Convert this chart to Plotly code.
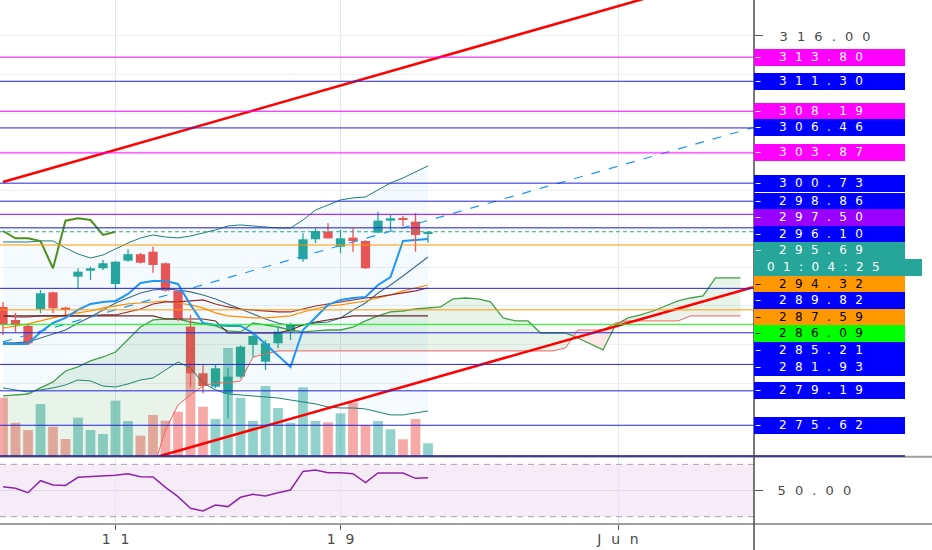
import numpy as np
import plotly.graph_objects as go

# SPY intraday bars, May 2020 (about 3 bars per trading day).
# bar 0 is the first bar visible on the left of the chart
OPEN = [287.89, 286.54, 285.95, 287.68, 289.41, 287.82, 291.03, 291.65, 291.90, 290.27,
        292.69, 293.36, 293.62, 292.42, 289.58, 285.85, 281.01, 279.62, 278.93, 280.66,
        283.95, 282.21, 284.12, 285.33, 292.84, 294.91, 295.70, 294.14, 295.08, 294.73,
        295.60, 296.84, 297.09, 296.74, 295.46]
HIGH = [288.41, 287.27, 286.10, 289.65, 289.48, 287.92, 291.90, 292.07, 292.76, 292.62,
        293.87, 293.50, 294.14, 292.50, 289.62, 287.06, 281.87, 281.87, 281.53, 283.90,
        285.16, 284.46, 285.85, 286.26, 295.53, 296.05, 296.57, 295.88, 296.05, 294.80,
        297.77, 297.43, 297.33, 297.61, 295.72]
LOW = [284.98, 285.30, 283.95, 287.24, 287.24, 287.06, 289.72, 290.69, 291.73, 289.72,
       292.59, 292.40, 291.45, 289.50, 286.40, 279.62, 278.93, 279.45, 276.34, 280.50,
       282.73, 281.35, 283.60, 284.46, 292.59, 294.50, 295.00, 293.46, 293.62, 291.85,
       295.53, 295.88, 296.29, 293.62, 294.56]
CLOSE = [286.02, 286.02, 284.12, 289.31, 287.75, 287.58, 291.55, 291.90, 292.42, 292.59,
         293.36, 292.48, 292.24, 289.58, 286.54, 281.01, 279.69, 281.53, 280.66, 283.77,
         284.88, 284.12, 285.33, 286.09, 294.91, 295.77, 295.01, 295.01, 294.73, 291.90,
         296.84, 297.09, 296.91, 295.36, 295.69]
VOLUME = [58.3, 33.3, 26.0, 52.0, 29.3, 17.0, 38.3, 26.0, 22.0, 55.3,
          35.0, 20.3, 41.0, 35.3, 44.3, 83.0, 49.3, 37.0, 108.0, 58.3,
          35.0, 70.0, 48.0, 33.3, 68.7, 35.0, 33.7, 42.7, 53.3, 31.0,
          35.0, 26.7, 16.7, 37.0, 12.7]
RSI = [52.9, 51.7, 48.3, 57.5, 54.2, 53.9, 60.1, 60.6, 61.1, 61.6,
       62.8, 60.6, 60.3, 52.4, 45.3, 36.4, 34.4, 38.9, 37.7, 44.8,
       47.1, 45.8, 48.3, 50.4, 64.6, 65.6, 63.6, 63.6, 62.8, 56.0,
       63.4, 63.6, 63.4, 59.3, 59.8]

# ichimoku
TENKAN = [284.05, 284.05, 284.05, 285.30, 286.23, 286.75, 287.58, 288.20, 288.41, 288.51,
          289.24, 290.38, 290.59, 290.59, 290.28, 288.10, 286.23, 286.02, 285.92, 285.92,
          285.19, 284.05, 282.81, 281.67, 285.50, 286.75, 288.10, 288.62, 288.82, 288.93,
          290.17, 291.00, 294.74, 294.84, 294.94]
KIJUN = [286.96, 286.96, 286.96, 286.96, 286.96, 286.96, 286.96, 286.96, 286.96, 286.96,
         286.96, 286.96, 286.96, 286.64, 286.64, 286.64, 286.64, 286.44, 285.19, 285.19,
         285.19, 285.19, 285.19, 285.50, 286.02, 286.33, 286.54, 286.75, 286.96, 286.96,
         286.96, 286.96, 286.96, 286.96, 286.96]
SENKOU_A = [278.66, 278.76, 278.86, 279.49, 280.11, 281.25, 281.67, 282.29, 282.70, 283.22,
            284.47, 285.81, 286.54, 286.64, 286.64, 286.33, 286.13, 285.92, 285.40, 285.30,
            286.23, 286.02, 285.81, 285.50, 285.30, 285.40, 285.50, 285.50, 285.81, 286.44,
            286.96, 287.37, 287.47, 287.68, 287.79, 287.89, 288.72, 288.82, 288.72, 288.41,
            286.75, 286.44, 286.44, 285.19, 285.19, 285.19, 284.67, 284.05, 283.43, 286.02,
            286.75, 287.06, 287.47, 287.99, 288.51, 288.82, 289.03, 290.90, 290.90, 290.90]
SENKOU_B = [270.98, 270.98, 270.98, 270.98, 270.98, 270.98, 270.98, 270.98, 270.98, 270.98,
            270.98, 270.98, 270.98, 275.13, 277.72, 278.76, 279.69, 280.01, 280.01, 280.21,
            282.70, 283.01, 283.33, 283.33, 283.33, 283.33, 283.33, 283.33, 283.33, 283.33,
            283.33, 283.33, 283.33, 283.33, 283.33, 283.33, 283.33, 283.33, 283.33, 283.33,
            283.33, 283.33, 283.33, 283.33, 283.33, 283.64, 285.50, 285.50, 285.50, 286.23,
            286.44, 286.44, 286.44, 286.44, 286.44, 286.96, 286.96, 286.96, 286.96, 286.96]
CHIKOU_SHIFT = 25

# moving averages / bands
MA_MAROON = [286.96, 286.85, 286.85, 286.96, 286.96, 286.96, 286.96, 286.96, 287.06, 287.06,
             287.37, 287.68, 288.20, 288.41, 288.41, 288.51, 288.62, 288.20, 287.89, 287.68,
             287.58, 287.47, 287.37, 287.37, 287.68, 287.99, 288.20, 288.41, 288.62, 288.82,
             288.93, 289.13, 289.34, 289.55, 289.86]
MA_ORANGE = [285.71, 285.92, 286.13, 286.44, 286.75, 287.06, 287.27, 287.47, 287.79, 287.99,
             288.20, 288.30, 288.41, 288.51, 288.30, 288.10, 287.79, 287.27, 286.96, 286.85,
             286.75, 286.75, 286.85, 286.96, 287.37, 287.68, 287.99, 288.10, 288.30, 288.51,
             288.82, 289.13, 289.55, 289.86, 290.17]
MA_SLATE = [284.16, 284.16, 284.26, 284.67, 285.09, 285.50, 286.23, 286.85, 287.58, 288.30,
            288.82, 289.34, 289.65, 289.76, 289.65, 289.45, 289.13, 288.72, 288.20, 287.68,
            287.16, 286.64, 286.23, 285.92, 286.02, 286.23, 286.33, 286.75, 287.58, 288.30,
            289.34, 290.17, 291.11, 292.14, 293.08]
BB_UPPER = [294.63, 294.63, 294.63, 294.74, 294.74, 294.01, 293.39, 292.97, 293.28, 293.91,
            294.53, 295.05, 295.36, 295.15, 295.05, 295.25, 295.57, 295.88, 296.29, 296.40,
            296.29, 296.19, 296.08, 296.08, 296.91, 297.95, 298.47, 298.99, 299.20, 299.30,
            300.03, 300.75, 301.27, 301.89, 302.52]
BB_LOWER = [279.49, 279.28, 279.07, 279.28, 279.49, 279.80, 280.32, 280.21, 279.69, 279.59,
            279.90, 280.32, 280.52, 281.35, 282.18, 281.56, 280.01, 279.28, 278.86, 278.76,
            278.66, 278.55, 278.45, 278.24, 278.03, 277.83, 277.52, 277.41, 277.41, 277.31,
            277.00, 276.69, 276.69, 276.89, 277.10]

# drawings: (bar, price) end points
CHANNEL_UPPER_BARS = [0, 60]
CHANNEL_UPPER_PRICES = [300.85, 323.09]
CHANNEL_LOWER_BARS = [12.5, 60]
CHANNEL_LOWER_PRICES = [272.41, 289.93]
MID_TREND_BARS = [0, 60]
MID_TREND_PRICES = [284.26, 306.49]

# horizontal levels
MAGENTA_LEVELS = [313.80, 308.19, 303.87]
BLUE_LEVELS = [311.30, 306.46, 300.73, 298.86, 296.10, 289.82, 285.21, 281.93, 279.19, 275.62]
PURPLE_LEVELS = [297.50]
ORANGE_LEVELS = [294.32, 287.59]
LIME_LEVELS = [286.09]
COUNTDOWN = "01:04:25"

PRICE_TICKS = [280, 284, 288, 292, 296, 300, 304, 308, 312, 316]
RSI_TICKS = [50]
TIME_TICK_BARS = [9, 27, 49.2]
TIME_TICK_TEXT = ["11", "19", "Jun"]

# ---------------------------------------------------------------------------
W, H = 932, 550
MARGIN_R, MARGIN_B = 178, 26
PLOT_H = H - MARGIN_B
MAIN_H = 456                     # px height of the price pane
RSI_TOP = 457
Y_BOT, Y_TOP = 272.43, 319.73
X_RANGE = [-0.24, 60.08]
RSI_RANGE = [24.4, 75.6]
LABEL_STEP = 16.6
FONT = "DejaVu Sans"

MAGENTA = "#ff00ff"
BLUE = "#0000ff"
PURPLE = "#9900ff"
ORANGE = "#ff9800"
LIME = "#00ff00"
TEAL = "#26a69a"
RED = "#ef5350"


def spread(s):
    """TradingView-like wide lettering."""
    return "\u2009\u2002".join(s)


bars = np.arange(len(CLOSE))
future = np.arange(len(SENKOU_A))
span_a = np.array(SENKOU_A)
span_b = np.array(SENKOU_B)
top = np.maximum(span_a, span_b)
o, h, l, c = (np.array(v) for v in (OPEN, HIGH, LOW, CLOSE))
up = c >= o

fig = go.Figure()

# volume (base axis, drawn under everything)
fig.add_trace(go.Bar(
    x=bars, y=VOLUME, yaxis="y", width=0.78,
    marker=dict(color=np.where(up, "rgba(38,166,154,0.5)", "rgba(239,83,80,0.5)"),
                line_width=0),
))

P = dict(xaxis="x", yaxis="y3", hoverinfo="skip", showlegend=False)

# band fill
fig.add_trace(go.Scatter(x=bars, y=BB_UPPER, mode="lines", line=dict(color="#1f7f74", width=1), **P))
fig.add_trace(go.Scatter(x=bars, y=BB_LOWER, mode="lines", line=dict(color="#1f7f74", width=1),
                         fill="tonexty", fillcolor="rgba(33,150,243,0.05)", **P))

# cloud
fig.add_trace(go.Scatter(x=future, y=span_b, mode="lines", line=dict(width=0), **P))
fig.add_trace(go.Scatter(x=future, y=top, mode="lines", line=dict(width=0),
                         fill="tonexty", fillcolor="rgba(67,160,71,0.12)", **P))
fig.add_trace(go.Scatter(x=future, y=span_a, mode="lines", line=dict(width=0), **P))
fig.add_trace(go.Scatter(x=future, y=top, mode="lines", line=dict(width=0),
                         fill="tonexty", fillcolor="rgba(244,67,54,0.12)", **P))
fig.add_trace(go.Scatter(x=future, y=span_a, mode="lines", line=dict(color="#43a047", width=1.3), **P))
fig.add_trace(go.Scatter(x=future, y=span_b, mode="lines", line=dict(color="#f06060", width=1), **P))

# averages
fig.add_trace(go.Scatter(x=bars, y=MA_SLATE, mode="lines", line=dict(color="#3f6e8c", width=1.2), **P))
fig.add_trace(go.Scatter(x=bars, y=MA_ORANGE, mode="lines", line=dict(color="#ff8f00", width=1.2), **P))
fig.add_trace(go.Scatter(x=bars, y=MA_MAROON, mode="lines", line=dict(color="#9a2b2b", width=1.2), **P))
fig.add_trace(go.Scatter(x=bars, y=KIJUN, mode="lines", line=dict(color="#6d2a22", width=1.2), **P))
fig.add_trace(go.Scatter(x=bars, y=TENKAN, mode="lines", line=dict(color="#2196f3", width=2), **P))
chikou = CLOSE[CHIKOU_SHIFT:]
fig.add_trace(go.Scatter(x=bars[:len(chikou)], y=chikou, mode="lines",
                         line=dict(color="#4e8f1c", width=2), **P))

# drawings
fig.add_trace(go.Scatter(x=MID_TREND_BARS, y=MID_TREND_PRICES, mode="lines",
                         line=dict(color="#2196f3", width=1.2, dash="dash"), **P))
fig.add_trace(go.Scatter(x=CHANNEL_UPPER_BARS, y=CHANNEL_UPPER_PRICES, mode="lines",
                         line=dict(color="#ff0000", width=2.5), **P))
fig.add_trace(go.Scatter(x=CHANNEL_LOWER_BARS, y=CHANNEL_LOWER_PRICES, mode="lines",
                         line=dict(color="#ff0000", width=2.5), **P))

# candles: wicks as broken line segments, bodies as floating bars
for mask, col in ((up, TEAL), (~up, RED)):
    idx = bars[mask]
    wx = np.column_stack([idx, idx, np.full(len(idx), np.nan)]).ravel()
    wy = np.column_stack([l[mask], h[mask], np.full(len(idx), np.nan)]).ravel()
    fig.add_trace(go.Scatter(x=wx, y=wy, mode="lines", line=dict(color=col, width=1.3), **P))
    fig.add_trace(go.Bar(
        x=idx, base=np.minimum(o, c)[mask], y=np.maximum(np.abs(c - o)[mask], 0.08),
        width=0.74, marker=dict(color=col, line_width=0), **P,
    ))

# RSI pane
fig.add_trace(go.Scatter(x=bars, y=RSI, xaxis="x", yaxis="y2", mode="lines",
                         line=dict(color="#8e24aa", width=1.5), hoverinfo="skip", showlegend=False))

# ---- horizontal levels + right-hand labels ----
levels = ([(p, MAGENTA, MAGENTA, "white") for p in MAGENTA_LEVELS]
          + [(p, "#2424d8", BLUE, "white") for p in BLUE_LEVELS]
          + [(p, PURPLE, PURPLE, "white") for p in PURPLE_LEVELS]
          + [(p, ORANGE, ORANGE, "black") for p in ORANGE_LEVELS]
          + [(p, LIME, LIME, "black") for p in LIME_LEVELS])

shapes = []
for p, lc, _, _ in levels:
    shapes.append(dict(type="line", xref="paper", x0=0, x1=1, yref="y3", y0=p, y1=p,
                       line=dict(color=lc, width=1)))
last = CLOSE[-1]
shapes.append(dict(type="line", xref="paper", x0=0, x1=1, yref="y3", y0=last, y1=last,
                   line=dict(color=TEAL, width=1, dash="4px,3px")))

labels = [(p, bc, tc, False) for p, _, bc, tc in levels] + [(last, TEAL, "white", True)]
labels.sort(key=lambda t: -t[0])


def price_px(p):
    return (Y_TOP - p) / (Y_TOP - Y_BOT) * MAIN_H


annotations = []
prev = -1e9


def add_label(px, text, bg, fg, width):
    annotations.append(dict(
        xref="paper", x=1, xanchor="left", yref="paper", y=1 - px / PLOT_H, yanchor="middle",
        text=text, showarrow=False, align="left", width=width, height=LABEL_STEP - 2,
        borderpad=1, borderwidth=0, bgcolor=bg, font=dict(family=FONT, size=12, color=fg),
    ))


for p, bg, fg, is_last in labels:
    pos = max(price_px(p), prev + LABEL_STEP)
    add_label(pos, "\u2013\u2003\u2002" + spread(f"{p:.2f}"), bg, fg, 149)
    prev = pos
    if is_last:
        prev = pos + LABEL_STEP
        add_label(prev, "\u2003" + spread(COUNTDOWN), TEAL, "white", 166)

main_bottom = 1 - MAIN_H / PLOT_H
rsi_top = 1 - RSI_TOP / PLOT_H
right_edge = W / (W - MARGIN_R)

shapes += [
    # RSI band
    dict(type="rect", xref="paper", x0=0, x1=1, yref="y2", y0=30, y1=70,
         fillcolor="rgba(156,39,176,0.09)", line_width=0, layer="below"),
    dict(type="line", xref="paper", x0=0, x1=1, yref="y2", y0=70, y1=70,
         line=dict(color="#a0a3ad", width=1, dash="6px,5px")),
    dict(type="line", xref="paper", x0=0, x1=1, yref="y2", y0=30, y1=30,
         line=dict(color="#a0a3ad", width=1, dash="6px,5px")),
    # pane separators
    dict(type="line", xref="paper", x0=0, x1=right_edge, yref="paper",
         y0=main_bottom - 0.0015, y1=main_bottom - 0.0015, line=dict(color="#9e9e9e", width=2)),
    dict(type="line", xref="paper", x0=0, x1=(W - 27) / (W - MARGIN_R), yref="paper",
         y0=main_bottom, y1=main_bottom, line=dict(color="#1a1a9e", width=1.5)),
    dict(type="line", xref="paper", x0=0, x1=right_edge, yref="paper", y0=0, y1=0,
         line=dict(color="#9e9e9e", width=2)),
    # price scale border
    dict(type="line", xref="paper", x0=1, x1=1, yref="paper", y0=-MARGIN_B / PLOT_H, y1=1,
         line=dict(color="#4a4a4a", width=1.5)),
]

tick_font = dict(family=FONT, size=13, color="#4a4a4a")
# only the top price tick is readable; the rest sit under the level labels
price_ticktext = [spread(f"{t:.2f}") if t == max(PRICE_TICKS) else "" for t in PRICE_TICKS]

fig.update_layout(
    width=W, height=H,
    margin=dict(l=0, r=MARGIN_R, t=0, b=MARGIN_B),
    paper_bgcolor="white", plot_bgcolor="white",
    showlegend=False, barmode="overlay",
    xaxis=dict(
        range=X_RANGE, anchor="y2",
        tickvals=TIME_TICK_BARS, ticktext=[spread(t) for t in TIME_TICK_TEXT],
        tickfont=dict(family=FONT, size=14, color="#4a4a4a"),
        ticks="outside", ticklen=5, tickcolor="#555", ticklabelstandoff=-3,
        showgrid=True, gridcolor="#e3e6ee", zeroline=False, showline=False,
    ),
    yaxis=dict(domain=[main_bottom, 1], range=[0, MAIN_H], visible=False, anchor="x"),
    yaxis3=dict(
        overlaying="y", side="right", anchor="x", range=[Y_BOT, Y_TOP],
        tickvals=PRICE_TICKS, ticktext=price_ticktext,
        tickfont=tick_font, ticks="outside", ticklen=8, tickcolor="#555",
        ticklabelstandoff=14, showgrid=True, gridcolor="#eef0f5", zeroline=False,
    ),
    yaxis2=dict(
        domain=[0, rsi_top], range=RSI_RANGE, side="right", anchor="x",
        tickvals=RSI_TICKS, ticktext=[spread(f"{t:.2f}") for t in RSI_TICKS],
        tickfont=tick_font, ticks="outside", ticklen=8, tickcolor="#555",
        ticklabelstandoff=12, showgrid=True, gridcolor="#e2d9ec", zeroline=False,
    ),
    shapes=shapes,
    annotations=annotations,
)

fig.write_html("out.html", config={"displayModeBar": False},
               post_script="document.body.style.margin='0';")
